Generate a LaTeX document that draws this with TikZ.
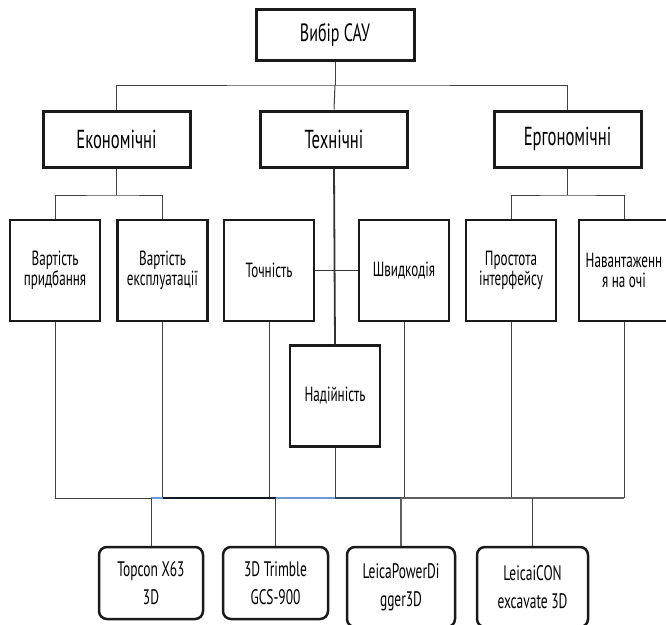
\documentclass[tikz,border=0pt]{standalone}
\usepackage{fontspec}
\setmainfont{PT Sans}[FakeStretch=0.64]
\definecolor{busblue}{HTML}{6F9BD5}
\definecolor{busnavy}{HTML}{111A24}
\definecolor{busslate}{HTML}{34465E}
\definecolor{busgray}{HTML}{606060}
\definecolor{boxline}{HTML}{1A1A1A}
\begin{document}
\begin{tikzpicture}[x=1pt,y=-1pt]
\useasboundingbox (0,0) rectangle (666,624);
\tikzset{
 topbox/.style={draw=boxline, line width=3pt, minimum width=158pt, minimum height=51pt, inner sep=0pt, font=\fontsize{25}{27}\selectfont},
 lvtwo/.style={draw=boxline, line width=3pt, minimum width=147pt, minimum height=56pt, inner sep=0pt, font=\fontsize{26}{28}\selectfont},
 lvthree/.style={draw=boxline, line width=2.5pt, minimum width=90pt, minimum height=101pt, inner sep=0pt, align=center, font=\fontsize{20.5}{20}\selectfont},
 botbox/.style={draw=boxline, line width=2.5pt, rounded corners=8pt, inner sep=0pt, align=center, font=\fontsize{21}{28}\selectfont},
 conn/.style={draw=black!75, line width=1pt},
 thickconn/.style={draw=black!80, line width=1.8pt},
}
% nodes
\node[topbox] (root) at (335,34.5) {Вибір САУ};
\node[lvtwo] (econ) at (116.5,139) {Економічні};
\node[lvtwo] (tech) at (334,139) {Технічні};
\node[lvtwo] (ergo) at (567.5,139) {Ергономічні};
\node[lvthree] (v1) at (55,270.5) {Вартість\\придбання};
\node[lvthree] (v2) at (162.5,270.5) {Вартість\\експлуатації};
\node[lvthree] (toch) at (269,270.5) {Точність};
\node[lvthree] (shv) at (404,270.5) {Швидкодія};
\node[lvthree] (prost) at (511,270.5) {Простота\\інтерфейсу};
\node[lvthree] (nav) at (624,270.5) {Навантаженн\\я на очі};
\node[lvthree] (rel) at (335,396) {Надійність};
\node[botbox, minimum width=104pt, minimum height=72pt] (topc) at (151,583) {Topcon X63\\3D};
\node[botbox, minimum width=105pt, minimum height=72pt] (trim) at (275.5,583) {3D Trimble\\GCS-900};
\node[botbox, minimum width=108pt, minimum height=80pt] (leica) at (401,587) {LeicaPowerDi\\gger3D};
\node[botbox, minimum width=111pt, minimum height=80pt] (icon) at (532.5,587) {LeicaiCON\\excavate 3D};
% coordinates of buses
\coordinate (busA) at (0,85);
\coordinate (busB) at (0,195);
\coordinate (busC) at (0,498);
% top level
\draw[conn] (root.south) -- (root.south |- busA);
\draw[conn] (econ.north) |- (root.south |- busA) -| (ergo.north);
\draw[conn] (root.south |- busA) -- (tech.north);
% economic
\draw[conn] (econ.south) -- (econ.south |- busB);
\draw[conn] (v1.north) |- (econ.south |- busB) -| (v2.north);
% ergonomic
\draw[conn] (ergo.south) -- (ergo.south |- busB);
\draw[conn] (prost.north) |- (ergo.south |- busB) -| (nav.north);
% technical
\draw[thickconn] (tech.south) -- (rel.north);
\draw[thickconn] (toch.east) -- (shv.west);
% down to bottom bus
\foreach \n in {v1,v2,toch,shv,prost,nav,rel}{
  \draw[conn] (\n.south) -- (\n.south |- busC);
}
% bottom bus segments
\draw[conn] (v1.south |- busC) -- (topc.north |- busC);
\draw[draw=busblue, line width=1.5pt] (topc.north |- busC) -- (v2.south |- busC);
\draw[draw=busnavy, line width=1.5pt] (v2.south |- busC) -- (trim.north |- busC);
\draw[draw=busblue, line width=1.5pt] (trim.north |- busC) -- (rel.south |- busC);
\draw[draw=busslate, line width=1.5pt] (rel.south |- busC) -- (leica.north |- busC);
\draw[draw=busgray, line width=2.2pt] (leica.north |- busC) -- (nav.south |- busC);
% down to systems
\draw[conn] (topc.north |- busC) -- (topc.north);
\draw[conn] (trim.north |- busC) -- (trim.north);
\draw[draw=busgray, line width=2pt] (leica.north |- busC) -- (leica.north);
\draw[conn] (icon.north |- busC) -- (icon.north);
\end{tikzpicture}
\end{document}
